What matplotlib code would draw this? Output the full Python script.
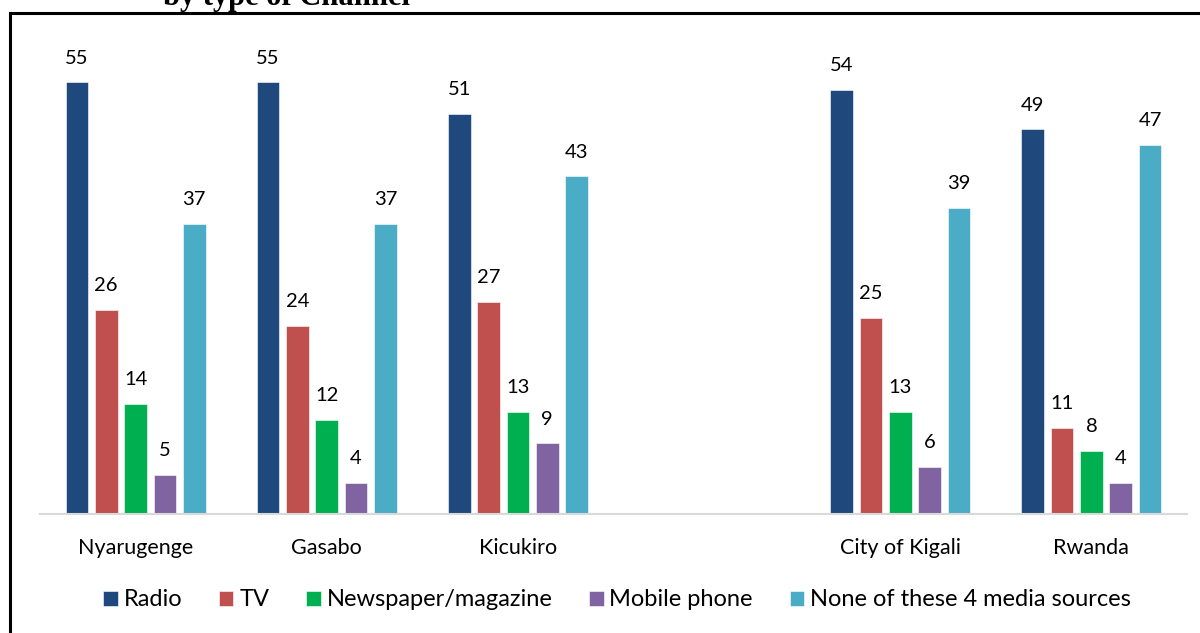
import matplotlib
matplotlib.use("Agg")
import matplotlib.pyplot as plt
import numpy as np
from matplotlib.lines import Line2D

categories = ["Nyarugenge", "Gasabo", "Kicukiro", "", "City of Kigali", "Rwanda"]
series_names = ["Radio", "TV", "Newspaper/magazine", "Mobile phone", "None of these 4 media sources"]
radio = [55, 55, 51, None, 54, 49]
tv = [26, 24, 27, None, 25, 11]
newspaper = [14, 12, 13, None, 13, 8]
mobile = [5, 4, 9, None, 6, 4]
none4 = [37, 37, 43, None, 39, 47]
colors = ["#1F497D", "#C0504D", "#00B050", "#8064A2", "#4BACC6"]

plt.rcParams['font.family'] = ['Lato', 'DejaVu Sans']

fig = plt.figure(figsize=(12, 6.33), dpi=100)
ax = fig.add_axes([40/1200, 1-514/633, (1187-40)/1200, 471/633])

x = np.arange(len(categories))
pitch = 0.1535
width = 0.118
all_series = [radio, tv, newspaper, mobile, none4]
for i, (vals, name, col) in enumerate(zip(all_series, series_names, colors)):
    xs = [xi + (i-2)*pitch for xi, v in zip(x, vals) if v is not None]
    vs = [v for v in vals if v is not None]
    ax.bar(xs, vs, width=width, color=col, label=name, edgecolor='white', linewidth=0.4)
    for xb, v in zip(xs, vs):
        ax.text(xb, v + 2.0, str(v), ha='center', va='bottom', fontsize=14.5, color='#000000')

ax.set_xlim(-0.5, len(categories)-0.5)
ax.set_ylim(0, 60)
ax.set_yticks([])
ax.set_xticks(x)
ax.set_xticklabels(categories, fontsize=15.5)
ax.tick_params(axis='x', length=0, pad=17)
for s in ['top', 'right', 'left']:
    ax.spines[s].set_visible(False)
ax.spines['bottom'].set_color('#D9D9D9')
ax.spines['bottom'].set_linewidth(1.5)

leg = fig.legend(loc='center', bbox_to_anchor=(617/1200, 1-600/633), ncol=5, frameon=False,
                 fontsize=17, handlelength=0.62, handleheight=0.62, handletextpad=0.25,
                 columnspacing=1.55)

# border lines
fig.add_artist(Line2D([10/1200, 10/1200], [0, 1-13/633], color='black', linewidth=2.2, transform=fig.transFigure))
fig.add_artist(Line2D([10/1200, 1], [1-13/633, 1-13/633], color='black', linewidth=2.2, transform=fig.transFigure))

# cropped title (cut off at the top edge, as in the reference)
fig.text(163/1200, 1-5/633, "by type of Channel", fontsize=22, fontweight='bold',
         family='Liberation Serif', va='baseline', ha='left')

fig.savefig("out.png", dpi=100)
